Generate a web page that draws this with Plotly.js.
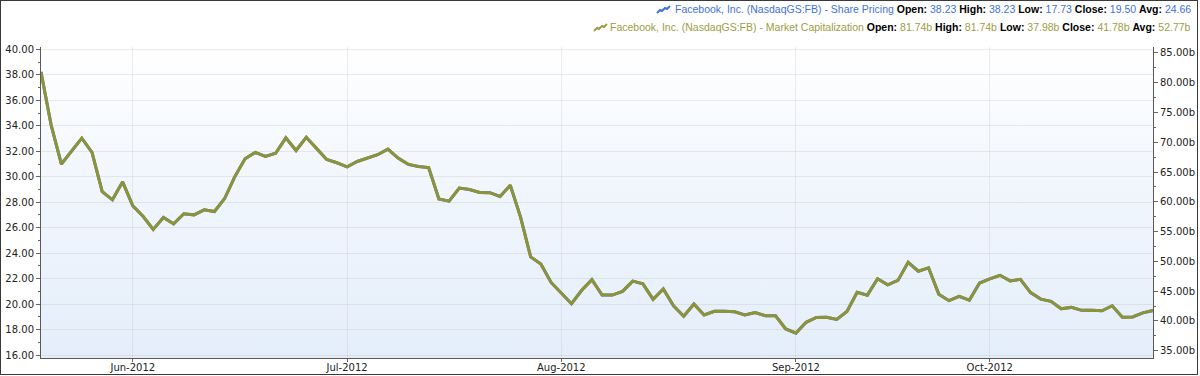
<!DOCTYPE html>
<html>
<head>
<meta charset="utf-8">
<script src="https://cdn.plot.ly/plotly-3.0.1.min.js"></script>
<style>
  html, body { margin: 0; padding: 0; background: #ffffff; }
  #frame { position: relative; width: 1196px; height: 373px; border: 1px solid #3a3a3a; background: #fff; overflow: hidden; }
  #grad { position: absolute; left: 40px; top: 46px; width: 1112px; height: 311px;
          background: linear-gradient(to bottom, #ffffff 0%, #f1f6fd 45%, #e4eefa 100%); }
  #chart { position: absolute; left: 0; top: 0; width: 1196px; height: 373px; }
</style>
</head>
<body>
<div id="frame"><div id="grad"></div><div id="chart"></div></div>
<script>
// Trading days (category axis, evenly spaced)
const dates = [
 '2012-05-18','2012-05-21','2012-05-22','2012-05-23','2012-05-24','2012-05-25','2012-05-29','2012-05-30','2012-05-31',
 '2012-06-01','2012-06-04','2012-06-05','2012-06-06','2012-06-07','2012-06-08','2012-06-11','2012-06-12','2012-06-13','2012-06-14','2012-06-15',
 '2012-06-18','2012-06-19','2012-06-20','2012-06-21','2012-06-22','2012-06-25','2012-06-26','2012-06-27','2012-06-28','2012-06-29',
 '2012-07-02','2012-07-03','2012-07-05','2012-07-06','2012-07-09','2012-07-10','2012-07-11','2012-07-12','2012-07-13',
 '2012-07-16','2012-07-17','2012-07-18','2012-07-19','2012-07-20','2012-07-23','2012-07-24','2012-07-25','2012-07-26','2012-07-27','2012-07-30','2012-07-31',
 '2012-08-01','2012-08-02','2012-08-03','2012-08-06','2012-08-07','2012-08-08','2012-08-09','2012-08-10','2012-08-13','2012-08-14','2012-08-15','2012-08-16','2012-08-17',
 '2012-08-20','2012-08-21','2012-08-22','2012-08-23','2012-08-24','2012-08-27','2012-08-28','2012-08-29','2012-08-30','2012-08-31',
 '2012-09-04','2012-09-05','2012-09-06','2012-09-07','2012-09-10','2012-09-11','2012-09-12','2012-09-13','2012-09-14',
 '2012-09-17','2012-09-18','2012-09-19','2012-09-20','2012-09-21','2012-09-24','2012-09-25','2012-09-26','2012-09-27','2012-09-28',
 '2012-10-01','2012-10-02','2012-10-03','2012-10-04','2012-10-05','2012-10-08','2012-10-09','2012-10-10','2012-10-11','2012-10-12',
 '2012-10-15','2012-10-16','2012-10-17','2012-10-18','2012-10-19','2012-10-22','2012-10-23'
];

// Share price (USD)
const sharePrice = [
 38.23,34.03,31.00,32.00,33.03,31.91,28.84,28.19,29.60,
 27.72,26.90,25.87,26.81,26.31,27.10,27.01,27.40,27.27,28.29,30.01,31.41,31.91,31.60,31.84,33.05,32.06,33.10,32.23,31.36,31.10,
 30.77,31.20,31.47,31.73,32.17,31.47,30.97,30.81,30.72,28.25,28.09,29.11,29.00,28.76,28.75,28.45,29.34,26.85,23.71,23.15,21.71,
 20.88,20.04,21.09,21.92,20.72,20.72,21.01,21.81,21.60,20.38,21.20,19.87,19.05,20.01,19.16,19.44,19.44,19.41,19.15,19.34,19.10,19.09,18.06,
 17.73,18.58,18.96,18.98,18.81,19.43,20.93,20.71,22.00,21.52,21.87,23.29,22.59,22.86,20.79,20.28,20.62,20.32,21.66,
 21.99,22.27,21.83,21.95,20.91,20.40,20.23,19.64,19.75,19.52,19.52,19.48,19.88,18.98,19.00,19.32,19.50
];

// Market capitalization (billions USD)
const marketCap = [
 81.74,72.82,66.34,68.48,70.68,68.29,61.72,60.33,63.34,
 59.32,57.57,55.36,57.37,56.30,57.99,57.80,58.64,58.36,60.54,64.22,67.22,68.29,67.62,68.14,70.73,68.61,70.83,68.97,67.11,66.55,
 65.85,66.77,67.35,67.90,68.84,67.35,66.28,65.93,65.74,60.46,60.11,62.30,62.06,61.55,61.53,60.88,62.79,57.46,50.74,49.54,46.46,
 44.68,42.89,45.13,46.91,44.34,44.34,44.96,46.67,46.22,43.61,45.37,42.52,40.77,42.82,41.00,41.60,41.60,41.54,40.98,41.39,40.87,40.85,38.65,
 37.98,39.76,40.57,40.62,40.25,41.58,44.79,44.32,47.08,46.05,46.80,49.84,48.34,48.92,44.49,43.40,44.13,43.48,46.35,
 47.06,47.66,46.72,46.97,44.75,43.66,43.29,42.03,42.27,41.77,41.77,41.69,42.54,40.62,40.66,41.34,41.78
];

const monthTickVals = ['2012-06-01','2012-07-02','2012-08-01','2012-09-04','2012-10-01'];
const monthTickText = ['Jun-2012','Jul-2012','Aug-2012','Sep-2012','Oct-2012'];

const seriesNames = ['Facebook, Inc. (NasdaqGS:FB) - Share Pricing', 'Facebook, Inc. (NasdaqGS:FB) - Market Capitalization'];
const statLabels = ['Open','High','Low','Close','Avg'];
const priceStats = ['38.23','38.23','17.73','19.50','24.66'];
const capStats = ['81.74b','81.74b','37.98b','41.78b','52.77b'];

const BLUE = '#3f72d8';
const OLIVE_LINE = '#8e9335';
const OLIVE_TEXT = '#9d9d45';

// geometry (pixels inside the chart div)
const W = 1196, H = 373, ML = 40, MR = 44, MT = 46, MB = 16;
const PW = W - ML - MR, PH = H - MT - MB;
function px(x) { return (x - 1 - ML) / PW; }
function py(y) { return (H - MB - (y - 1)) / PH; }

function legendText(name, stats, color) {
  let s = '<span style="color:' + color + '">' + name + '</span>';
  for (let i = 0; i < statLabels.length; i++) {
    s += ' <b>' + statLabels[i] + ':</b> <span style="color:' + color + '">' + stats[i] + '</span>';
  }
  return s;
}

const tickFont = { family: 'DejaVu Sans, Verdana, sans-serif', size: 10, color: '#222' };
const legendFont = { family: 'Liberation Sans, Arial, sans-serif', size: 10.5, color: '#000' };

const traces = [
  { x: dates, y: sharePrice, type: 'scatter', mode: 'lines', name: seriesNames[0],
    line: { color: BLUE, width: 3 }, yaxis: 'y', hoverinfo: 'skip' },
  { x: dates, y: marketCap, type: 'scatter', mode: 'lines', name: seriesNames[1],
    line: { color: OLIVE_LINE, width: 3 }, yaxis: 'y2', hoverinfo: 'skip' }
];

function icon(x0, y0, color) {
  const pts = [[0,7],[3,4],[5,5],[8,2],[10,3],[13,0]];
  let d = '';
  pts.forEach((p, i) => { d += (i ? ' L ' : 'M ') + px(x0 + p[0]) + ',' + py(y0 + p[1]); });
  return { type: 'path', xref: 'paper', yref: 'paper', path: d, line: { color: color, width: 2 } };
}

const layout = {
  width: W, height: H,
  margin: { l: ML, r: MR, t: MT, b: MB, pad: 0 },
  paper_bgcolor: 'rgba(0,0,0,0)', plot_bgcolor: 'rgba(0,0,0,0)',
  showlegend: false,
  font: tickFont,
  xaxis: {
    type: 'category', range: [0, dates.length - 1],
    tickmode: 'array', tickvals: monthTickVals, ticktext: monthTickText,
    ticks: 'outside', ticklen: 3, tickcolor: '#666', tickfont: tickFont, ticklabelstandoff: -3,
    showline: true, linecolor: '#5a5a5a', linewidth: 1,
    showgrid: true, gridcolor: 'rgba(190,190,190,0.28)', zeroline: false, automargin: false
  },
  yaxis: {
    range: [15.78, 40.18], tick0: 16, dtick: 2, tickformat: '.2f',
    ticks: 'outside', ticklen: 4, tickcolor: '#666', tickfont: tickFont,
    minor: { dtick: 1, ticks: 'outside', ticklen: 2, tickcolor: '#666', showgrid: false },
    showline: true, linecolor: '#5a5a5a', linewidth: 1,
    showgrid: true, gridcolor: 'rgba(190,190,190,0.3)', zeroline: false, automargin: false
  },
  yaxis2: {
    overlaying: 'y', side: 'right',
    range: [33.77, 85.99], tick0: 35, dtick: 5, tickformat: '.2f', ticksuffix: 'b',
    ticks: 'outside', ticklen: 4, tickcolor: '#666', tickfont: tickFont,
    minor: { dtick: 2.5, ticks: 'outside', ticklen: 2, tickcolor: '#666', showgrid: false },
    showline: true, linecolor: '#5a5a5a', linewidth: 1,
    showgrid: false, zeroline: false, automargin: false
  },
  annotations: [
    { xref: 'paper', yref: 'paper', x: px(1193), y: py(9), xanchor: 'right', yanchor: 'middle',
      showarrow: false, text: legendText(seriesNames[0], priceStats, BLUE), font: legendFont },
    { xref: 'paper', yref: 'paper', x: px(1193), y: py(27), xanchor: 'right', yanchor: 'middle',
      showarrow: false, text: legendText(seriesNames[1], capStats, OLIVE_TEXT), font: legendFont }
  ],
  shapes: [ icon(657, 6, BLUE), icon(594, 24, OLIVE_TEXT) ]
};

Plotly.newPlot('chart', traces, layout, { displayModeBar: false, staticPlot: true });
</script>
</body>
</html>
